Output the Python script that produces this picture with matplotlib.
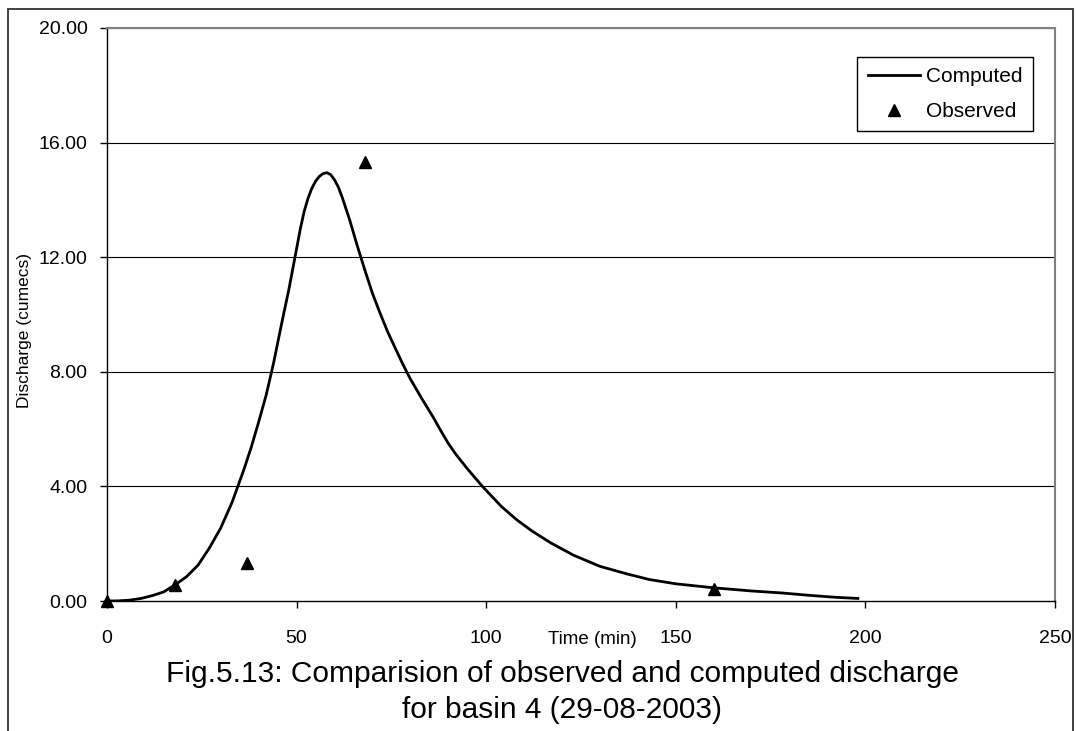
import matplotlib
matplotlib.use("Agg")
import matplotlib.pyplot as plt
from matplotlib.patches import Rectangle
from matplotlib.ticker import FormatStrFormatter

plt.rcParams['font.family'] = ['Liberation Sans', 'DejaVu Sans']

# Computed hydrograph
comp_t = [0, 3, 6, 9, 12, 15, 18, 21, 24, 27, 30, 33, 36, 38, 40, 42, 44, 46, 48,
          50, 51, 52, 53, 54, 55, 56, 57, 58, 59, 60, 61, 62, 63, 64, 65, 66, 68,
          70, 72, 74, 76, 78, 80, 83, 86, 88, 90, 92, 95, 99, 104, 108, 112, 117,
          123, 130, 137, 143, 150, 160, 170, 178, 185, 192, 198]
comp_q = [0.0, 0.005, 0.03, 0.09, 0.19, 0.32, 0.57, 0.85, 1.25, 1.85, 2.55, 3.45,
          4.55, 5.35, 6.25, 7.2, 8.35, 9.65, 10.9, 12.3, 13.0, 13.6, 14.05, 14.4,
          14.65, 14.82, 14.92, 14.95, 14.88, 14.7, 14.45, 14.1, 13.7, 13.3, 12.85,
          12.4, 11.55, 10.74, 10.05, 9.4, 8.83, 8.27, 7.75, 7.07, 6.42, 5.95, 5.5,
          5.12, 4.62, 4.0, 3.3, 2.84, 2.45, 2.03, 1.6, 1.21, 0.95, 0.75, 0.6, 0.46,
          0.35, 0.28, 0.2, 0.13, 0.09]

# Observed
obs_t = [0, 18, 37, 68, 160]
obs_q = [0.0, 0.57, 1.33, 15.34, 0.42]

x_ticks = [0, 50, 100, 150, 200, 250]
y_ticks = [0, 4, 8, 12, 16, 20]

W, H = 1076, 731
fig = plt.figure(figsize=(W / 100, H / 100), dpi=100)
fig.patch.set_facecolor('white')

# outer frame
fig.add_artist(Rectangle((8 / W, -0.02), 1065 / W, 1 - 9 / H + 0.02,
                         transform=fig.transFigure, fill=False,
                         edgecolor='#333333', linewidth=1.3, clip_on=False))

ax = fig.add_axes([107 / W, (H - 601) / H, 948 / W, 573 / H])
ax.set_xlim(0, 250)
ax.set_ylim(0, 20)

for y in y_ticks[1:]:
    ax.axhline(y, color='black', lw=0.8, zorder=1)

ax.plot(comp_t, comp_q, color='black', lw=2.0, label='Computed', zorder=3,
        solid_joinstyle='round')
ax.plot(obs_t, obs_q, linestyle='none', marker='^', color='black', ms=9,
        label='Observed', zorder=4, clip_on=False)

ax.set_xticks(x_ticks)
ax.set_yticks(y_ticks)
ax.yaxis.set_major_formatter(FormatStrFormatter('%.2f'))
ax.tick_params(axis='y', direction='out', length=5, width=1, labelsize=14, pad=9)
ax.tick_params(axis='x', direction='out', length=5, width=1, labelsize=14, pad=16)

for s in ['left', 'bottom']:
    ax.spines[s].set_color('black')
    ax.spines[s].set_linewidth(1.0)
for s in ['top', 'right']:
    ax.spines[s].set_color('#808080')
    ax.spines[s].set_linewidth(1.5)

leg = ax.legend(loc='upper right', bbox_to_anchor=((1033 - 107) / 948, (601 - 57) / 573),
                frameon=True, fancybox=False, framealpha=1, edgecolor='black',
                fontsize=15, handlelength=2.5, handletextpad=0.3, borderpad=0.5,
                labelspacing=0.75, borderaxespad=0)
leg.get_frame().set_linewidth(1.0)

fig.text(592 / W, 1 - 639 / H, 'Time (min)', ha='center', va='center', fontsize=13.5)
fig.text(25 / W, 1 - 330 / H, 'Discharge (cumecs)', ha='center', va='center',
         rotation=90, fontsize=12.5)
fig.text(562 / W, 1 - 682 / H, 'Fig.5.13: Comparision of observed and computed discharge',
         ha='center', va='baseline', fontsize=21.5)
fig.text(562 / W, 1 - 718 / H, 'for basin 4 (29-08-2003)',
         ha='center', va='baseline', fontsize=21.5)

fig.savefig('out.png', dpi=100)
